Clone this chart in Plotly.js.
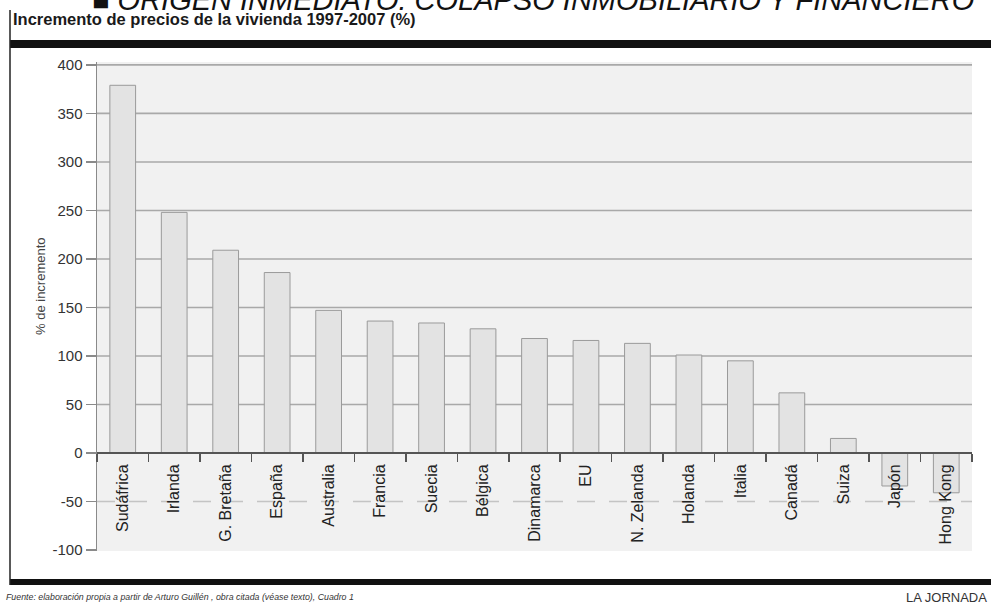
<!DOCTYPE html>
<html>
<head>
<meta charset="utf-8">
<script src="https://cdn.plot.ly/plotly-3.0.1.min.js"></script>
<style>html,body{margin:0;padding:0;background:#fff;}#chart{width:991px;height:605px;}</style>
</head>
<body>
<div id="chart"></div>
<script>
const categories = ["Sudáfrica","Irlanda","G. Bretaña","España","Australia","Francia","Suecia","Bélgica","Dinamarca","EU","N. Zelanda","Holanda","Italia","Canadá","Suiza","Japón","Hong Kong"];
const values = [379, 248, 209, 186, 147, 136, 134, 128, 118, 116, 113, 101, 95, 62, 15, -34, -41];
const yTickVals = [-100, -50, 0, 50, 100, 150, 200, 250, 300, 350, 400];
const solidGridVals = [50, 100, 150, 200, 250, 300, 350, 400];
const dashedGridVals = [-50];

const headerText = "■ ORIGEN INMEDIATO: COLAPSO INMOBILIARIO Y FINANCIERO";
const titleText = "Incremento de precios de la vivienda 1997-2007 (%)";
const yTitleText = "% de incremento";
const sourceText = "Fuente: elaboración propia a partir de Arturo Guillén , obra citada (véase texto), Cuadro 1";
const brandText = "LA JORNADA";

const W = 991, H = 605;
const M = {l: 97, r: 19, t: 62, b: 54};
const yRange = [-101, 403];
const pw = W - M.l - M.r, ph = H - M.t - M.b;
const px2x = p => (p - M.l) / pw;
const py2y = p => 1 - (p - M.t) / ph;

const FONT = "Liberation Sans, Arial, Helvetica, sans-serif";

const gridShapes = solidGridVals.map(v => ({
  type: 'line', xref: 'paper', yref: 'y', x0: 0, x1: 1, y0: v, y1: v,
  layer: 'below', line: {color: '#a9a9a9', width: 1.6}
})).concat(dashedGridVals.map(v => ({
  type: 'line', xref: 'paper', yref: 'y', x0: 0, x1: 1, y0: v, y1: v,
  layer: 'below', line: {color: '#c4c4c4', width: 1.6, dash: '18px,14px'}
})));

const frameShapes = [
  {type: 'rect', xref: 'paper', yref: 'paper', x0: px2x(10), x1: px2x(991), y0: py2y(48), y1: py2y(40), fillcolor: '#111', line: {width: 0}},
  {type: 'rect', xref: 'paper', yref: 'paper', x0: px2x(10), x1: px2x(991), y0: py2y(585), y1: py2y(579), fillcolor: '#111', line: {width: 0}},
  {type: 'line', xref: 'paper', yref: 'paper', x0: px2x(10), x1: px2x(10), y0: py2y(10), y1: py2y(585), line: {color: '#222', width: 1.5}}
];

const data = [{
  type: 'bar',
  x: categories,
  y: values,
  marker: {color: '#e3e3e3', line: {color: '#9a9a9a', width: 1}},
  width: 0.5,
  hoverinfo: 'x+y'
}];

const layout = {
  width: W, height: H,
  margin: M,
  paper_bgcolor: '#ffffff',
  plot_bgcolor: '#f1f1f1',
  showlegend: false,
  font: {family: FONT, color: '#222'},
  xaxis: {
    type: 'category',
    range: [-0.5, categories.length - 0.5],
    anchor: 'free',
    position: (0 - yRange[0]) / (yRange[1] - yRange[0]),
    showline: true, linecolor: '#555', linewidth: 2,
    ticks: 'outside', tickson: 'boundaries', ticklen: 8, tickwidth: 1.5, tickcolor: '#555',
    tickangle: -90,
    ticklabelstandoff: 4,
    tickfont: {family: FONT, size: 16, color: '#222'},
    showgrid: false, zeroline: false, fixedrange: true
  },
  yaxis: {
    range: yRange,
    tickvals: yTickVals,
    ticktext: yTickVals.map(String),
    showline: true, linecolor: '#8a8a8a', linewidth: 1.5,
    ticks: 'outside', ticklen: 10, tickwidth: 1.2, tickcolor: '#8a8a8a',
    tickfont: {family: FONT, size: 15, color: '#333'},
    showgrid: false, zeroline: false, fixedrange: true
  },
  shapes: gridShapes.concat(frameShapes),
  annotations: [
    {text: '<i>' + headerText + '</i>', xref: 'paper', yref: 'paper', x: px2x(976), y: py2y(0), xanchor: 'right', yanchor: 'middle', showarrow: false, font: {family: FONT, size: 29, color: '#111'}},
    {text: '<b>' + titleText + '</b>', xref: 'paper', yref: 'paper', x: px2x(11), y: py2y(19), xanchor: 'left', yanchor: 'middle', showarrow: false, font: {family: FONT, size: 16.5, color: '#1a1a1a'}},
    {text: yTitleText, xref: 'paper', yref: 'paper', x: px2x(40), y: py2y(286), xanchor: 'center', yanchor: 'middle', textangle: -90, showarrow: false, font: {family: FONT, size: 13, color: '#444'}},
    {text: '<i>' + sourceText + '</i>', xref: 'paper', yref: 'paper', x: px2x(4), y: py2y(597), xanchor: 'left', yanchor: 'middle', showarrow: false, font: {family: FONT, size: 8.8, color: '#333'}},
    {text: brandText, xref: 'paper', yref: 'paper', x: px2x(904), y: py2y(597), xanchor: 'left', yanchor: 'middle', showarrow: false, font: {family: FONT, size: 13, color: '#333'}}
  ]
};

Plotly.newPlot('chart', data, layout, {displayModeBar: false, staticPlot: true});
</script>
</body>
</html>
